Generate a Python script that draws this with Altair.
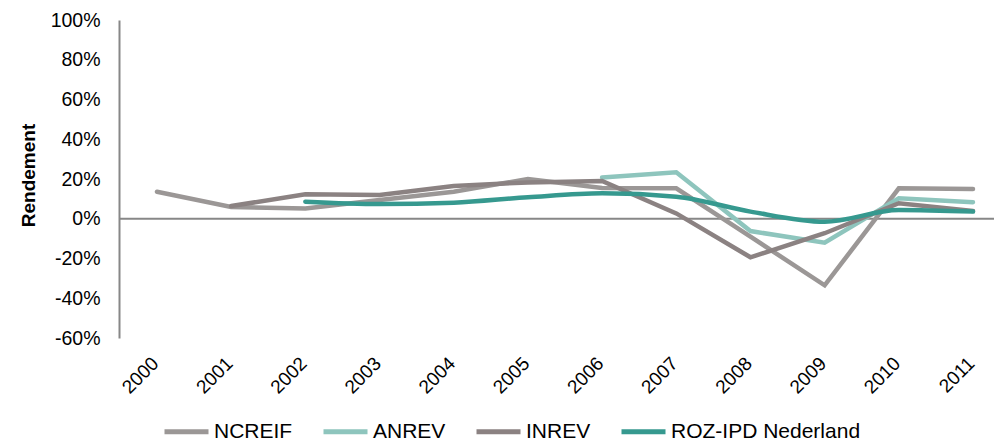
import altair as alt
import pandas as pd

years = list(range(2000, 2012))
series_names = ["NCREIF", "ANREV", "INREV", "ROZ-IPD Nederland"]
colors = ["#9b9796", "#8ec5bd", "#8b8282", "#36998f"]

ncreif = [13.6, 5.9, 5.2, 9.4, 13.6, 20.0, 15.5, 15.3, -9.0, -33.5, 15.3, 15.0]
anrev = [None, None, None, None, None, None, 20.8, 23.4, -6.2, -12.0, 10.3, 8.3]
inrev = [None, 6.4, 12.3, 11.9, 16.5, 18.3, 19.0, 2.7, -19.4, -7.3, 7.8, 3.9]
roz = [None, None, 8.6, 7.4, 8.1, 10.8, 12.8, 11.1, 3.6, -1.5, 4.4, 3.6]

y_ticks = [-60, -40, -20, 0, 20, 40, 60, 80, 100]

rows = []
for name, vals in zip(series_names, [ncreif, anrev, inrev, roz]):
    for yr, v in zip(years, vals):
        if v is not None:
            rows.append({"Jaar": yr, "Reeks": name, "Rendement": v})
df = pd.DataFrame(rows)

x_scale = alt.Scale(domain=[1999.488, 2011.283], nice=False, zero=False)
y_scale = alt.Scale(domain=[-60, 100], nice=False, zero=False)
color_scale = alt.Scale(domain=series_names, range=colors)

x_enc = alt.X(
    "Jaar:Q", scale=x_scale,
    axis=alt.Axis(values=years, format="d", title=None, domain=False, ticks=False,
                  grid=False, labelAngle=-45, labelAlign="right", labelBaseline="middle",
                  labelPadding=22, labelOffset=-2, labelFontSize=19,
                  labelFont="Liberation Sans", labelColor="#000000"),
)
y_axis = alt.Axis(values=y_ticks, labelExpr="datum.value + '%'", title="Rendement",
                  domain=True, domainColor="#878787", domainWidth=2, ticks=False, grid=False,
                  labelPadding=19, labelFontSize=19.5, labelFont="Liberation Sans",
                  labelColor="#000000", titleFont="Liberation Sans", titleFontSize=19,
                  titleFontWeight="bold", titleColor="#000000", titleX=-91, titleY=155,
                  titleAngle=270, titleAlign="center", titleBaseline="middle")
y_enc = alt.Y("Rendement:Q", scale=y_scale, axis=y_axis)
color_enc = alt.Color(
    "Reeks:N", scale=color_scale, sort=series_names,
    legend=alt.Legend(title=None, orient="none", legendX=43, legendY=387, direction="horizontal",
                      symbolType="stroke", symbolSize=1936, symbolStrokeWidth=5,
                      labelFont="Liberation Sans", labelFontSize=21, labelColor="#000000",
                      labelOffset=3, labelLimit=400, columnPadding=20, padding=0),
)

zero_df = pd.DataFrame({"Rendement": [0]})
zero_line = alt.Chart(zero_df).mark_rule(color="#878787", strokeWidth=2).encode(y=y_enc)

layers = [zero_line]
for name in series_names:
    interp = "monotone" if name == "ROZ-IPD Nederland" else "linear"
    layers.append(
        alt.Chart(df).transform_filter(alt.datum.Reeks == name)
        .mark_line(strokeWidth=4.5, interpolate=interp, strokeCap="round", strokeJoin="miter")
        .encode(x=x_enc, y=y_enc, color=color_enc)
    )

chart = alt.layer(*layers).properties(
    width=875, height=318,
    padding={"left": 119, "top": 20, "right": 0, "bottom": 103},
    autosize=alt.AutoSizeParams(type="none"),
    background="white",
).configure_view(stroke=None)

chart.save("out.html", embed_options={"renderer": "svg", "actions": False})
